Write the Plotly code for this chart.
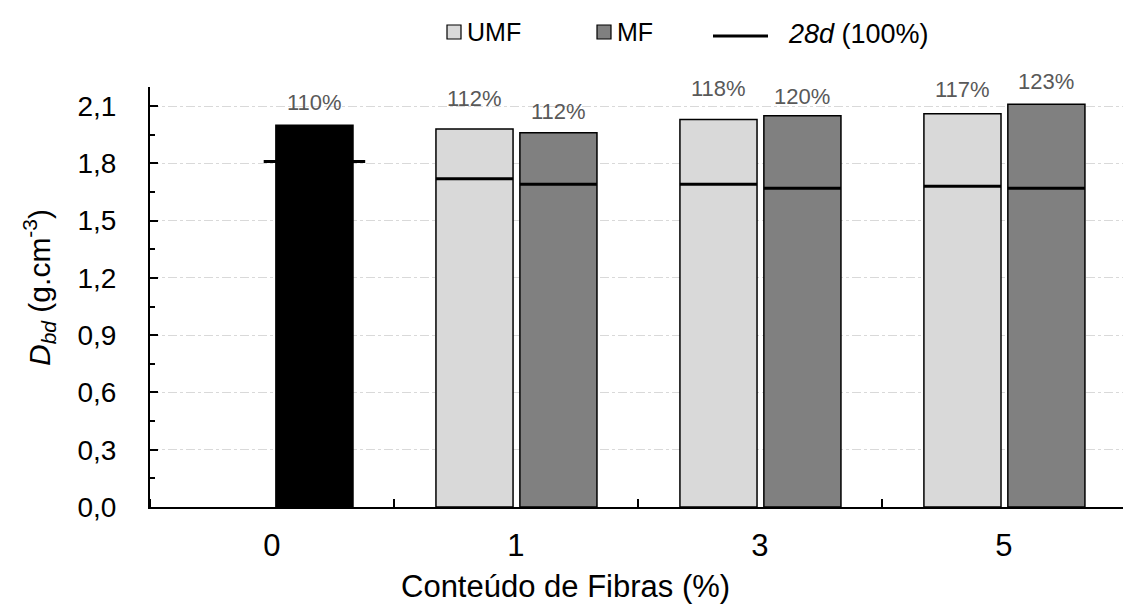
import plotly.graph_objects as go

# Fibre content groups (x axis) and bulk density values (g.cm-3)
categories = ["0", "1", "3", "5"]
control = [2.00, None, None, None]
umf = [None, 1.98, 2.03, 2.06]
mf = [None, 1.96, 2.05, 2.11]

# 28-day reference densities drawn as horizontal markers
ref_control = [1.81, None, None, None]
ref_umf = [None, 1.72, 1.69, 1.68]
ref_mf = [None, 1.69, 1.67, 1.67]

# Percent labels above the bars
lbl_control = ["110%", None, None, None]
lbl_umf = [None, "112%", "118%", "117%"]
lbl_mf = [None, "112%", "120%", "123%"]

# ---- styling ----
FONT = "Liberation Sans, Arial, sans-serif"
BAR_W = 0.316
OFF_LEFT = -0.328
OFF_RIGHT = 0.016
CTRL_OVERHANG = 0.05
lift_control = [23, None, None, None]
lift_umf = [None, 31, 31, 24]
lift_mf = [None, 21, 19, 23]

xs = list(range(len(categories)))

fig = go.Figure()


def add_bars(vals, offset, fill, name):
    fig.add_trace(go.Bar(
        x=xs, y=vals, name=name, width=BAR_W, offset=offset,
        marker=dict(color=fill, line=dict(color="black", width=1.5)),
        showlegend=False, hoverinfo="skip"))


add_bars(control, OFF_RIGHT, "black", "Controle")
add_bars(umf, OFF_LEFT, "#d9d9d9", "UMF")
add_bars(mf, OFF_RIGHT, "#808080", "MF")


def add_ref(vals, offset, overhang):
    lx, ly = [], []
    for x, v in zip(xs, vals):
        if v is None:
            continue
        lx += [x + offset - overhang, x + offset + BAR_W + overhang, None]
        ly += [v, v, None]
    fig.add_trace(go.Scatter(x=lx, y=ly, mode="lines",
                             line=dict(color="black", width=3),
                             showlegend=False, hoverinfo="skip"))


add_ref(ref_control, OFF_RIGHT, CTRL_OVERHANG)
add_ref(ref_umf, OFF_LEFT, 0)
add_ref(ref_mf, OFF_RIGHT, 0)


def add_labels(vals, labels, lifts, offset):
    for x, v, t, s in zip(xs, vals, labels, lifts):
        if v is None:
            continue
        fig.add_annotation(x=x + offset + BAR_W / 2, y=v, text=t,
                           showarrow=False, yanchor="middle", yshift=s,
                           font=dict(family=FONT, size=22, color="#595959"))


add_labels(control, lbl_control, lift_control, OFF_RIGHT)
add_labels(umf, lbl_umf, lift_umf, OFF_LEFT)
add_labels(mf, lbl_mf, lift_mf, OFF_RIGHT)

# ---- legend drawn in paper coordinates ----
L, T, W_PLOT, H_PLOT = 150, 87, 973, 420


def px(xp):
    return (xp - L) / W_PLOT


def py(yp):
    return (T + H_PLOT - yp) / H_PLOT


legend_boxes = [("UMF", "#d9d9d9", 447), ("MF", "#808080", 597)]
for text, fill, x0 in legend_boxes:
    fig.add_shape(type="rect", xref="paper", yref="paper",
                  x0=px(x0), x1=px(x0 + 14), y0=py(25), y1=py(39),
                  fillcolor=fill, line=dict(color="black", width=1.2))
    fig.add_annotation(xref="paper", yref="paper", x=px(x0 + 18), y=py(32),
                       text=text, showarrow=False, xanchor="left",
                       yanchor="middle",
                       font=dict(family=FONT, size=25, color="black"))
fig.add_shape(type="line", xref="paper", yref="paper",
              x0=px(713), x1=px(768), y0=py(36), y1=py(36),
              line=dict(color="black", width=3))
fig.add_annotation(xref="paper", yref="paper", x=px(786), y=py(34),
                   text="<i>28d</i> (100%)", showarrow=False, xanchor="left",
                   yanchor="middle",
                   font=dict(family=FONT, size=27, color="black"))

# axis titles
fig.add_annotation(xref="paper", yref="paper", x=px(565), y=py(586),
                   text="Conteúdo de Fibras (%)", showarrow=False,
                   xanchor="center", yanchor="middle",
                   font=dict(family=FONT, size=31, color="black"))
fig.add_annotation(xref="paper", yref="paper", x=px(39), y=py(288),
                   text="<i>D</i><sub><i>bd</i></sub> (g.cm<sup>-3</sup>)",
                   textangle=-90, showarrow=False,
                   xanchor="center", yanchor="middle",
                   font=dict(family=FONT, size=30, color="black"))

fig.update_layout(
    width=1123, height=612,
    margin=dict(l=L, r=0, t=T, b=612 - T - H_PLOT, pad=0),
    plot_bgcolor="white", paper_bgcolor="white",
    separators=", ",
    barmode="overlay",
    font=dict(family=FONT, color="black"),
    xaxis=dict(
        range=[-0.5, 3.488], tickvals=xs, ticktext=categories,
        ticks="", showgrid=False, zeroline=False,
        showline=True, linecolor="black", linewidth=2,
        tickfont=dict(size=31, color="black"), ticklabelstandoff=10,
        minor=dict(ticks="inside", tick0=0.5, dtick=1, ticklen=8,
                   tickwidth=2, tickcolor="black", showgrid=False),
    ),
    yaxis=dict(
        range=[0, 2.2], tick0=0, dtick=0.3, tickformat=".1f",
        ticks="inside", ticklen=8, tickwidth=2, tickcolor="black",
        showline=True, linecolor="black", linewidth=2,
        showgrid=True, gridcolor="#d9d9d9", griddash="dashdot", gridwidth=1,
        zeroline=False,
        tickfont=dict(size=28, color="black"), ticklabelstandoff=26,
        minor=dict(ticks="inside", dtick=0.15, ticklen=5, tickwidth=2,
                   tickcolor="black", showgrid=False),
    ),
)

fig.write_html("out.html")
